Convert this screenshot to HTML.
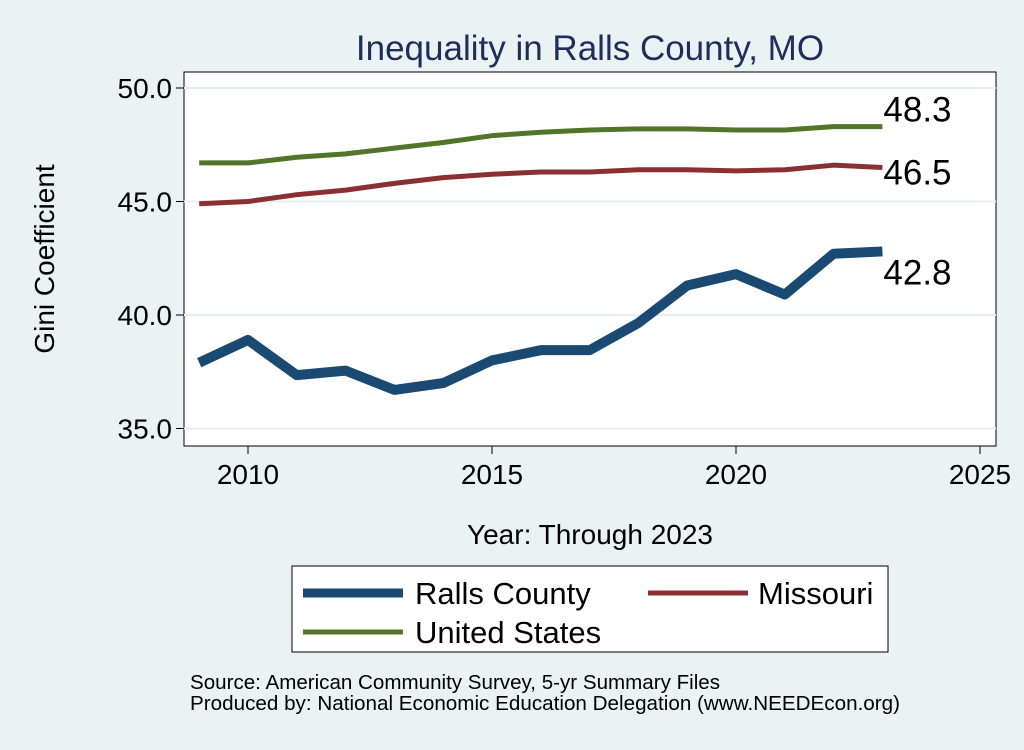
<!DOCTYPE html>
<html><head><meta charset="utf-8"><style>
body{margin:0;background:#eaf2f3;}
svg text{font-family:"Liberation Sans",Arial,sans-serif;}
</style></head><body>
<svg width="1024" height="745" viewBox="0 0 1024 745">
<rect x="0" y="0" width="1024" height="745" fill="#eaf2f3"/>
<text x="590" y="60" font-size="35" fill="#1e2d5a" text-anchor="middle">Inequality in Ralls County, MO</text>
<rect x="184" y="72" width="812" height="374" fill="#fff" stroke="#000" stroke-width="1"/>
<g id="grid"></g><g id="axes"></g><g id="series"></g>
<text transform="translate(54,259) rotate(-90)" font-size="28" text-anchor="middle">Gini Coefficient</text>
<text x="590" y="544" font-size="28" text-anchor="middle">Year: Through 2023</text>
<g>
<rect x="292" y="566" width="596" height="86" fill="#fff" stroke="#000"/>
<line x1="303" y1="593" x2="403" y2="593" stroke="#1a4a72" stroke-width="9"/>
<text x="415" y="604" font-size="31">Ralls County</text>
<line x1="648" y1="593" x2="748" y2="593" stroke="#8c2f33" stroke-width="5"/>
<text x="758" y="604" font-size="31">Missouri</text>
<line x1="303" y1="632" x2="403" y2="632" stroke="#52752a" stroke-width="5"/>
<text x="415" y="643" font-size="31">United States</text>
</g>
<text x="190" y="689" font-size="20" textLength="530" lengthAdjust="spacingAndGlyphs">Source: American Community Survey, 5-yr Summary Files</text>
<text x="190" y="710" font-size="20" textLength="710" lengthAdjust="spacingAndGlyphs">Produced by: National Economic Education Delegation (www.NEEDEcon.org)</text>
</svg>
<script>
const years=[2009,2010,2011,2012,2013,2014,2015,2016,2017,2018,2019,2020,2021,2022,2023];
const ralls=[37.9,38.9,37.35,37.55,36.7,37.0,38.0,38.45,38.45,39.65,41.3,41.8,40.9,42.7,42.8];
const missouri=[44.9,45.0,45.3,45.5,45.8,46.05,46.2,46.3,46.3,46.4,46.4,46.35,46.4,46.6,46.5];
const us=[46.7,46.7,46.95,47.1,47.35,47.6,47.9,48.05,48.15,48.2,48.2,48.15,48.15,48.3,48.3];
const yTicks=[35,40,45,50];
const xTicks=[2010,2015,2020,2025];
const NS="http://www.w3.org/2000/svg";
const xs=v=>248+(v-2010)*48.8;
const ys=v=>88+(50-v)*22.7;
function mk(tag,attrs,parent){const e=document.createElementNS(NS,tag);for(const k in attrs)e.setAttribute(k,attrs[k]);document.getElementById(parent).appendChild(e);return e;}
yTicks.forEach(t=>{
 let g=mk('line',{x1:184,x2:996,y1:ys(t),y2:ys(t),stroke:'#e8eef0','stroke-width':2},'grid');
 
 
 let tk=mk('line',{x1:176,x2:184,y1:ys(t),y2:ys(t),stroke:'#000'},'axes');
 
 
 let tx=mk('text',{x:172,y:ys(t)+10,'font-size':28,'text-anchor':'end'},'axes');
 tx.textContent=t.toFixed(1);
 
 
});
xTicks.forEach(t=>{
 let tk=mk('line',{x1:xs(t),x2:xs(t),y1:446,y2:454,stroke:'#000'},'axes');
 
 
 let tx=mk('text',{x:xs(t),y:484,'font-size':28,'text-anchor':'middle'},'axes');
 tx.textContent=t;
 
 
});
function line(vals,color,w,name,labelDy){
 const d=vals.map((v,i)=>(i?'L':'M')+xs(years[i])+','+ys(v)).join(' ');
 let p=mk('path',{d:d,fill:'none',stroke:color,'stroke-width':w,'stroke-linejoin':'round'},'series');
 
 
 const last=vals[vals.length-1];
 let t=mk('text',{x:xs(years[years.length-1])+1,y:ys(last)+labelDy,'font-size':35},'series');
 t.textContent=last.toFixed(1);
 
 
}
line(us,'#52752a',5,'us',-5);
line(missouri,'#8c2f33',5,'missouri',17);
line(ralls,'#1a4a72',10,'ralls',33);
</script>
</body></html>
